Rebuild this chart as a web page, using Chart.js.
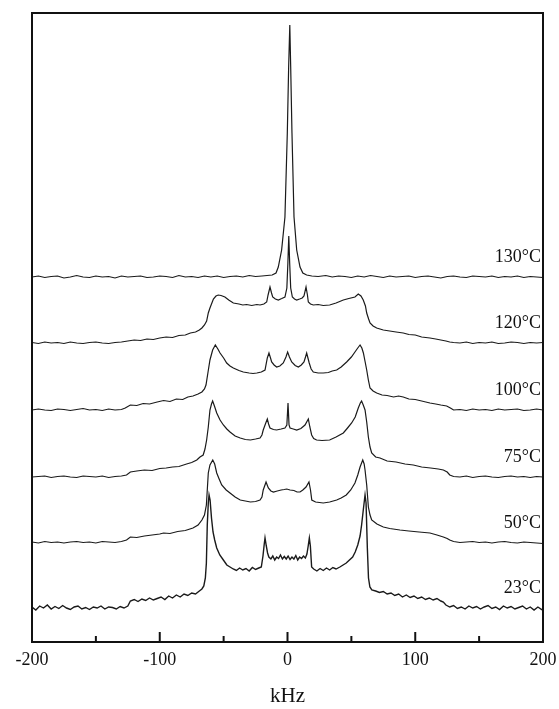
<!DOCTYPE html>
<html>
<head>
<meta charset="utf-8">
<title>2H NMR spectra vs temperature</title>
<script src="https://cdn.jsdelivr.net/npm/chart.js@4/dist/chart.umd.min.js"></script>
<style>
  body { margin: 0; background: #fff; }
  #spectra { display: block; }
</style>
</head>
<body>
<canvas id="spectra" width="559" height="709"></canvas>
<script>
// temperature labels, bottom trace first
const temps = ['23°C', '50°C', '75°C', '100°C', '120°C', '130°C'];
// vertical stack offset of each trace baseline (arbitrary intensity units)
const offsets = [34, 99, 165, 232, 299, 365];
const xTicks = [-200, -100, 0, 100, 200];

// [kHz, intensity above baseline]
const trace23 = [[-200,1],[-197,-2],[-194,2],[-191,0],[-188,3],[-185,-1],[-182,1.5],[-179,-0.5],[-176,2.5],[-173,0],[-170,-1.5],[-167,1],[-164,2],[-161,-1],[-158,0.5],[-155,-1.5],[-152,1],[-149,0],[-146,2],[-143,-1],[-140,1],[-137,0.5],[-134,-1],[-131,1.5],[-128,0],[-125,2],[-123,7],[-120,8.5],[-117,6.5],[-114,9],[-111,7.5],[-108,10],[-105,8],[-102,9.5],[-99,11],[-96,8.5],[-93,12],[-90,10],[-87,13],[-84,11],[-81,14],[-78,12.5],[-75,15],[-72,14],[-69,17],[-67,19],[-65.5,22],[-64.3,30],[-63.5,45],[-62.8,83],[-62,105],[-61.4,113],[-60.6,108],[-59.5,90],[-58.3,76],[-57,68],[-55.4,60],[-53,53],[-50.2,48],[-47.5,43],[-45,41],[-42.5,39],[-40,37.5],[-37.5,40],[-35,38],[-32.5,39.5],[-30,37],[-27.5,40.5],[-25,38.5],[-22.5,40],[-20.5,41],[-19.2,52],[-18.2,64],[-17.6,70],[-16.6,62],[-15.6,55],[-14.6,51],[-13,49],[-11.5,52],[-10,48],[-8.5,51],[-7,49.5],[-5.5,53],[-4,49],[-2.5,51.5],[-1,49],[0.5,52],[2,48.5],[3.5,51],[5,49],[6.5,52.5],[8,48],[9.5,51],[11,49.5],[12.5,52],[14,50],[15.2,54],[16.2,62],[17.1,70],[17.9,62],[18.9,41],[20.5,39],[23,37],[25.5,39.5],[28,37.5],[30.5,40],[33,38],[35.5,40.5],[38,39],[41,41],[43.5,43],[46,45],[48.5,48],[51,51],[53,56],[55,63],[56.8,72],[58,83],[59.5,100],[60.7,113],[61.5,105],[62.5,60],[63.4,30],[64.5,21],[66,18],[69,17],[72,15.5],[75,16.5],[78,14],[81,15],[84,12.5],[87,14],[90,11],[93,13],[96,10.5],[99,12],[102,9.5],[105,11],[108,8.5],[111,10],[114,8],[117,9.5],[120,7],[122,6],[124,3],[127,1],[130,2.5],[133,-0.5],[136,1],[139,-1],[142,2],[145,0],[148,1.5],[151,-1],[154,1],[157,2.5],[160,-0.5],[163,1],[166,-1.5],[169,2],[172,0],[175,1.5],[178,-1],[181,0.5],[184,2],[187,-1],[190,1],[193,-2],[196,1],[199,-1.5],[200,-2]];

const trace50 = [[-200,1],[-195,0],[-190,1.5],[-185,0.5],[-180,1],[-175,0],[-170,1],[-165,1.5],[-160,0.5],[-155,1],[-150,0],[-145,1.5],[-140,1],[-135,0.5],[-130,1.5],[-126,3],[-123,6],[-118,5.5],[-112,7],[-106,8],[-100,9],[-97,10],[-92,9.5],[-86,11.5],[-80,12.5],[-74,15],[-70,18],[-67,23],[-65,28],[-63.5,38],[-62,70],[-60.7,78],[-58.5,83],[-57,79],[-55.4,70],[-53.5,64],[-51.5,58],[-48,53],[-45,50],[-41,46],[-37,43],[-33,42],[-29,41],[-25,41.5],[-21.5,43],[-20,46],[-19,53],[-16.8,61],[-15,55],[-13,52],[-11,51],[-8,52],[-5,53],[-2.5,53.5],[-0.6,54],[2,53],[5,52.5],[7.5,51],[9.8,51],[12,53],[14.5,56],[16.8,61],[18,53],[19,43],[22,41],[25,40.5],[28,40],[33,41],[38.5,43],[42,45],[46,48],[49.5,53],[52.8,60],[55,68],[56.8,76],[58.9,83],[60,79],[60.7,73],[62,58],[63.3,36],[64.6,28],[65.9,23],[70,19],[75,16],[80,14.5],[88,13],[95,12],[103,11],[111.5,10],[117,8],[122,6],[125,4.5],[127,3],[130,1.5],[135,0.5],[140,1],[145,1.5],[150,0.5],[155,1],[160,0],[165,1],[170,1.5],[175,0.5],[180,0],[185,1],[190,0.5],[195,0],[200,-0.5]];

const trace75 = [[-200,0],[-195,0.5],[-190,1],[-185,-0.5],[-180,0.5],[-175,1],[-170,0],[-165,-0.5],[-160,1],[-155,0.5],[-150,0],[-145,1],[-140,-0.5],[-135,0.5],[-130,1],[-126,2],[-123,5],[-118,6],[-112,7],[-106,6.5],[-100,8.5],[-95,9],[-90,10],[-85,10.5],[-79,13],[-75,14.5],[-71,17],[-68.5,20],[-66,22],[-64.6,28],[-63.3,37],[-62,50],[-60.7,67],[-59.5,73],[-58.6,76],[-57.2,71],[-55.4,64],[-52.8,57],[-50.2,52],[-47.5,48],[-45,45],[-41,41],[-37,39],[-33,37.5],[-29,37],[-25,38],[-21.5,39],[-20,42],[-19,47],[-17.3,53],[-15.8,58],[-14.8,53],[-13.7,49],[-11,47.5],[-8.5,47],[-5,48],[-2,49],[-0.5,52],[0.4,74],[1.2,52],[2,49],[4.5,48],[7.2,47],[10.5,48.5],[13.7,52],[16.3,58],[17.5,50],[18.9,42],[20.5,38.5],[22.8,37],[27,36.5],[33,37],[38,40],[43.7,44],[47,49],[50.2,54],[53,60],[55.4,69],[57,74],[58,76],[59.3,72],[60.7,67],[62,55],[63.3,40],[64.6,30],[65.9,24],[69,20],[72.4,19],[78,16],[85,15],[92,13],[98.5,12],[105,10],[112,9],[118,8],[122,7],[125,5],[127,2],[130,0.5],[135,0],[140,1],[145,-0.5],[150,0.5],[155,1],[160,0],[165,-0.5],[170,0.5],[175,1],[180,0],[185,0.5],[190,-0.5],[195,0.5],[200,0]];

const trace100 = [[-200,0],[-195,1],[-190,0],[-185,-0.5],[-180,1],[-175,0.5],[-170,-0.5],[-165,0.5],[-160,1.5],[-155,0],[-150,0.5],[-145,-0.5],[-140,1],[-135,0],[-130,0.5],[-127,2],[-123,5],[-118,4.5],[-113,6.5],[-108,6],[-102,8],[-97,9.5],[-92,8.5],[-87,11],[-82,10.5],[-78,13],[-74,14],[-70,16],[-67,18],[-65,21],[-63.8,25],[-62.2,38],[-60.7,50],[-58.6,60],[-56.5,65],[-54.5,61],[-52.8,57],[-50,52],[-47.6,47],[-45,44],[-42.4,42],[-38,39.5],[-34.6,38],[-30,37],[-27,36.5],[-24,37],[-20.5,38],[-17.6,40],[-15.8,52],[-14.5,57],[-13.3,52],[-12.4,48],[-10.5,45],[-8.5,43],[-6,44],[-3.3,47],[-1.2,53],[0.1,58],[1.5,53],[3.3,48],[6,44.5],[8.5,43],[10.8,45],[12.9,48],[14.1,53],[15,57],[16,52],[17,47],[18.5,41],[20.2,38],[24,37],[28,37],[32,37.5],[35,39],[38.5,40],[42,43],[46.3,48],[50,53],[52.8,58],[55,62],[56.8,65],[58.2,62],[59.4,57],[60.8,48],[62,40],[63.3,30],[64.6,22],[67,19],[69.8,17],[74,15],[78,14.5],[83,13],[87,14],[90.6,13],[95,11],[100,10.5],[105,9],[111.5,7],[116,6],[120,5],[124.6,4],[127.5,2],[130,0],[135,0.5],[140,-0.5],[145,1],[150,0],[155,0.5],[160,-0.5],[165,1],[170,0],[175,0.5],[180,1],[185,-0.5],[190,0],[195,1],[200,0]];

const trace120 = [[-200,0.5],[-195,-0.5],[-190,1],[-185,0],[-180,0.5],[-175,-0.5],[-170,1],[-165,0],[-160,-0.5],[-155,0.5],[-150,1],[-145,0],[-140,-0.5],[-135,0.5],[-130,1],[-125,2],[-120,3],[-115,2.5],[-110,4],[-105,3.5],[-100,5],[-95,6],[-90,5.5],[-85,7.5],[-80,8],[-76,10],[-72,11],[-69,13],[-67,15],[-65,18],[-63.3,22],[-62,30],[-60.7,35],[-58,44],[-56,47],[-54.2,48],[-52,47.5],[-49,46],[-46,43],[-42.4,40],[-38,39],[-35,38],[-32,38.5],[-28,37.5],[-24,38.5],[-21.5,38],[-18.5,39],[-16.3,41],[-15.2,48],[-13.7,56],[-12.5,50],[-11.6,46],[-9.5,44],[-7.2,43],[-4.5,44.5],[-2,46],[-0.5,55],[0.3,80],[1,107],[1.7,80],[2.5,55],[3.8,46],[5.5,44],[7.2,43],[9.5,44],[11.5,45],[12.9,47],[14.5,56],[15.6,48],[16.3,41],[18,39],[20.2,38],[24,38.5],[28,37.5],[33,38],[38,40],[43.7,43],[48,44.5],[52.8,46],[55.4,49],[57.5,47],[59.3,43],[61,37],[62,30],[63.5,24],[64.6,20],[67,17],[69.8,15],[75,13],[80,12],[85,11],[90.6,10],[95,8.5],[100,8],[105,6],[111.5,5],[116,4],[120,3],[124,2],[127,1],[130,0.5],[135,0],[140,1],[145,-0.5],[150,0.5],[155,0],[160,1],[165,-0.5],[170,0],[175,1],[180,0.5],[185,-0.5],[190,0.5],[195,0],[200,0.5]];

const trace130 = [[-200,0],[-195,1],[-190,-0.5],[-185,0.5],[-180,1],[-175,-1],[-170,0],[-165,1.5],[-160,0],[-155,-0.5],[-150,1],[-145,0],[-140,0.5],[-135,-1],[-130,1],[-125,0],[-120,0.5],[-115,1],[-110,-0.5],[-105,0],[-100,1],[-95,0.5],[-90,-0.5],[-85,1.5],[-80,0],[-75,0.5],[-70,-0.5],[-65,1],[-60,0],[-55,1],[-50,-0.5],[-45,0.5],[-40,1],[-35,0],[-30,1.5],[-25,0.5],[-20,1],[-16,1.5],[-12,2],[-9,4],[-7.2,10],[-4.6,27],[-2,60],[-0.15,144],[0.9,210],[1.8,252],[2.5,210],[3.5,144],[5.1,60],[7.2,27],[9.8,10],[12,4],[15,2],[19,1],[24,0.5],[30,1.5],[35,0],[40,1],[45,0.5],[50,-0.5],[55,1],[60,0],[65,1.5],[70,0.5],[75,-0.5],[80,1],[85,0],[90,0.5],[95,1],[100,-0.5],[105,0.5],[110,1],[115,0],[120,-1],[125,0.5],[130,1],[135,0],[140,-0.5],[145,1],[150,0.5],[155,0],[160,1],[165,-0.5],[170,0.5],[175,0],[180,1],[185,-0.5],[190,0.5],[195,0],[200,-0.5]];

const traces = [trace23, trace50, trace75, trace100, trace120, trace130];

const serif = '"Liberation Serif", "Times New Roman", serif';

// frame, inward ticks and temperature labels
const framePlugin = {
    id: 'frame',
    afterDatasetsDraw(chart) {
        const { ctx, chartArea: a, scales: { x, y } } = chart;
        ctx.save();
        ctx.strokeStyle = '#111';
        ctx.lineWidth = 2;
        ctx.strokeRect(a.left, a.top, a.right - a.left, a.bottom - a.top);
        x.ticks.forEach(t => {
            const px = x.getPixelForValue(t.value);
            const len = xTicks.includes(t.value) ? 10 : 6;
            ctx.beginPath();
            ctx.moveTo(px, a.bottom);
            ctx.lineTo(px, a.bottom - len);
            ctx.stroke();
        });
        ctx.font = '18px ' + serif;
        ctx.fillStyle = '#111';
        ctx.textAlign = 'right';
        ctx.textBaseline = 'middle';
        temps.forEach((t, i) => {
            ctx.fillText(t, a.right - 2, y.getPixelForValue(offsets[i] + 20));
        });
        ctx.restore();
    }
};

const ctx = document.getElementById('spectra').getContext('2d');
const spectraChart = new Chart(ctx, {
    type: 'line',
    data: {
        datasets: traces.map((tr, i) => ({
            label: temps[i],
            data: tr.map(p => ({ x: p[0], y: offsets[i] + p[1] })),
            borderColor: '#1a1a1a',
            borderWidth: i === 0 ? 1.4 : 1.2,
            pointRadius: 0,
            tension: 0,
            fill: false
        }))
    },
    options: {
        responsive: false,
        animation: false,
        layout: { padding: { left: 32, right: 16, top: 13, bottom: 0 } },
        plugins: {
            legend: { display: false },
            tooltip: { enabled: false }
        },
        scales: {
            x: {
                type: 'linear',
                min: -200,
                max: 200,
                afterFit: scale => {
                    scale.height = 67;
                    scale.paddingLeft = 0;
                    scale.paddingRight = 0;
                },
                grid: { display: false, drawTicks: false },
                border: { display: false },
                ticks: {
                    stepSize: 50,
                    autoSkip: false,
                    maxRotation: 0,
                    padding: 7,
                    color: '#111',
                    font: { family: serif, size: 18 },
                    callback: v => xTicks.includes(v) ? String(v) : ''
                },
                title: {
                    display: true,
                    text: 'kHz',
                    color: '#111',
                    padding: 0,
                    font: { family: serif, size: 21 }
                }
            },
            y: {
                display: false,
                min: 0,
                max: 629
            }
        }
    },
    plugins: [framePlugin]
});
</script>
</body>
</html>
